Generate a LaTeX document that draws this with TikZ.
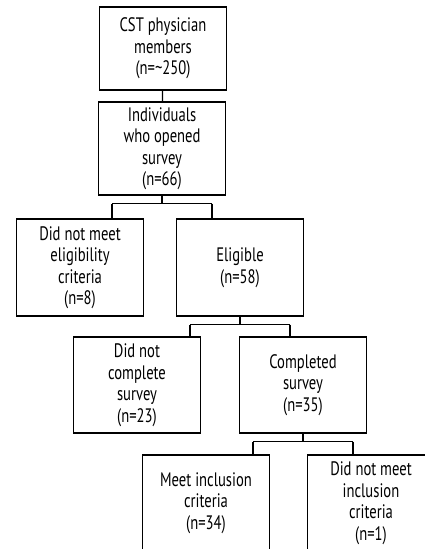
\documentclass[tikz,border=0pt]{standalone}
\usepackage{fontspec}
\setmainfont[FakeStretch=0.75]{PT Sans}
\usepackage{tikz}

\tikzset{
  flowbox/.style={draw, line width=1.3pt, align=center, minimum width=127pt,
    inner sep=2pt, font=\fontsize{19.5}{21.5}\selectfont},
  link/.style={line width=1.3pt}
}

\begin{document}
\begin{tikzpicture}[x=1pt,y=-1pt]
    \useasboundingbox (0,0) rectangle (425,549);
    \clip (0,0) rectangle (425,549);
    \node[flowbox, minimum height=83pt] (cst) at (163,48.5)
      {CST physician\\members\\(n=\textasciitilde 250)};
    \node[flowbox, minimum height=93pt] (opened) at (162,148.5)
      {Individuals\\who opened\\survey\\(n=66)};
    \node[flowbox, minimum height=97pt] (notelig) at (80,267.5)
      {Did not meet\\eligibility\\criteria\\(n=8)};
    \node[flowbox, minimum height=97pt] (elig) at (240,267.5)
      {Eligible\\(n=58)};
    \node[flowbox, minimum height=96pt] (notcomp) at (137,385)
      {Did not\\complete\\survey\\(n=23)};
    \node[flowbox, minimum height=96pt] (comp) at (303,385)
      {Completed\\survey\\(n=35)};
    \node[flowbox, minimum height=96pt] (meet) at (206,503)
      {Meet inclusion\\criteria\\(n=34)};
    \node[flowbox, minimum height=96pt] (notmeet) at (371,503)
      {Did not meet\\inclusion\\criteria\\(n=1)};
    \draw[link] (cst) -- (opened);
    \foreach \p/\l/\r in {opened/notelig/elig, elig/notcomp/comp, comp/meet/notmeet}
    {
      \draw[link] (\p.south) -- ++(0,8) coordinate (j) -- ++(-50,0) coordinate (jl);
      \draw[link] (j) -- ++(50,0) coordinate (jr);
      \draw[link] (jl) -- (jl |- \l.north);
      \draw[link] (jr) -- (jr |- \r.north);
    }
  \end{tikzpicture}
\end{document}
